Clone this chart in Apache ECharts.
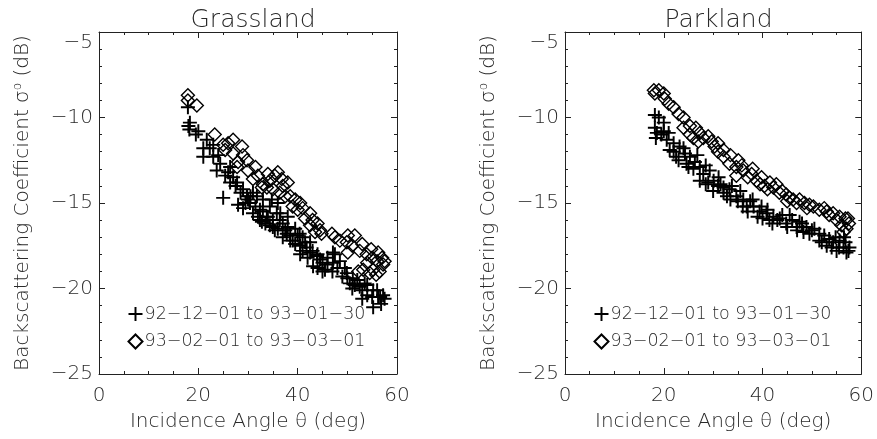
<!DOCTYPE html>
<html>
<head>
<meta charset="utf-8">
<script src="https://cdn.jsdelivr.net/npm/echarts@6/dist/echarts.min.js"></script>
<style>html,body{margin:0;padding:0;background:#fff}#c{width:877px;height:439px}</style>
</head>
<body>
<div id="c"></div>
<script>
// ---- data ----
const panelTitles = ['Grassland', 'Parkland'];
const seriesNames = ['92-12-01 to 93-01-30', '93-02-01 to 93-03-01'];
const xTicks = [0, 20, 40, 60];
const yTicks = [-25, -20, -15, -10, -5];

const grassPlusX = [17.9,18.3,18.2,18.0,20.0,19.5,21.7,21.0,23.0,22.3,24.4,23.7,26.4,27.0,27.8,25.0,25.4,26.4,29.0,29.8,31.0,30.4,28.0,33.0,32.4,34.4,35.8,31.0,32.4,32.8,34.4,35.0,37.0,36.4,37.8,35.4,39.0,38.5,40.4,39.5,41.8,40.5,42.5,40.5,43.9,43.1,44.5,44.0,45.5,42.5,47.1,47.5,47.1,48.5,49.5,49.9,50.5,51.1,51.5,52.0,53.0,53.5,54.0,54.0,55.2,55.0,56.2,55.2,56.6,57.2,57.5,36.0,33.8,30.0,29.0,37.5,41.0,45.0,46.0,
  26.0,27.5,28.5,29.5,30.5,31.5,32.0,33.0,33.5,34.0,35.0,36.0,36.5,37.0,38.0,38.5,39.5,40.0,41.0,41.5,42.0,43.0,44.0,45.0,46.0,47.0,48.0,49.0,50.0,51.0,52.5,53.0,56.0,56.8,34.8,31.8,38.0,24.0,23.0,21.0];
const grassPlusY = [-9.4,-10.3,-10.7,-10.5,-10.8,-11.0,-11.3,-12.3,-12.3,-11.8,-12.7,-13.1,-12.9,-13.5,-13.8,-14.7,-13.4,-13.8,-14.2,-14.6,-14.4,-15.0,-15.1,-14.8,-15.4,-15.2,-15.6,-15.6,-16.0,-16.1,-16.3,-16.4,-16.2,-16.0,-16.8,-16.6,-17.2,-17.2,-16.8,-16.5,-17.6,-17.5,-17.9,-18.0,-18.1,-18.7,-18.3,-18.8,-18.9,-17.3,-17.9,-18.0,-18.5,-18.4,-18.8,-19.1,-19.7,-19.4,-19.8,-19.5,-20.1,-19.7,-19.8,-20.4,-20.1,-20.5,-20.5,-21.1,-20.5,-20.4,-20.6,-15.0,-15.8,-14.8,-15.3,-16.6,-17.0,-18.5,-18.2,
  -13.2,-14.0,-14.4,-15.0,-14.6,-15.2,-15.8,-15.5,-16.2,-15.8,-16.0,-16.5,-15.6,-17.0,-16.4,-16.9,-17.4,-16.9,-17.8,-17.3,-18.2,-17.8,-18.0,-19.0,-18.6,-19.0,-18.8,-19.3,-19.4,-20.0,-19.9,-20.6,-20.1,-20.9,-14.8,-14.6,-15.8,-12.2,-11.6,-11.8];

const grassDiaX = [17.9,17.9,19.7,23.3,25.0,27.0,28.8,27.0,25.4,29.8,27.8,30.0,32.0,36.0,38.0,34.4,33.8,37.0,36.4,38.5,40.5,42.5,39.0,41.5,42.5,44.5,43.5,46.9,48.5,50.1,51.5,49.9,50.1,52.5,53.9,55.0,56.0,57.0,57.2,53.2,55.2,54.0,52.2,56.5,32.8,35.4,40.0,44.0,
  31.0,33.0,34.0,35.0,36.8,37.5,39.5,41.0,43.0,44.8,29.0,26.0,28.0,31.5,47.5,51.0,53.0,54.8,56.2,57.5,55.8,54.5];
const grassDiaY = [-8.7,-9.0,-9.3,-11.0,-11.6,-11.3,-11.7,-12.1,-11.9,-12.5,-12.9,-13.1,-13.4,-13.2,-13.8,-13.7,-14.1,-14.0,-14.4,-14.6,-15.0,-15.6,-15.2,-15.9,-16.3,-16.6,-16.7,-16.8,-17.2,-16.9,-16.9,-17.3,-17.9,-17.8,-18.0,-18.2,-18.4,-18.2,-18.6,-18.9,-18.9,-18.5,-19.0,-19.0,-14.1,-13.4,-15.4,-16.2,
  -13.6,-13.9,-13.3,-14.2,-13.6,-14.6,-14.8,-15.3,-16.0,-16.8,-12.2,-11.5,-12.6,-12.9,-17.0,-17.5,-17.4,-17.7,-17.9,-18.4,-19.2,-19.1];

const parkPlusX = [18.2,18.2,18.6,20.0,20.0,18.4,20.6,22.0,21.2,23.2,24.3,25.3,24.6,26.3,27.3,28.0,27.3,29.3,30.1,31.1,32.1,32.1,33.3,34.7,36.1,36.8,38.2,39.4,40.8,42.2,41.4,44.8,46.9,48.9,48.3,51.5,51.5,53.5,54.3,55.6,56.4,57.6,57.0,55.0,22.5,29.0,31.0,35.0,37.5,43.5,45.5,47.5,50.0,52.5,54.0,56.5,39.0,33.5,
  19.0,19.5,21.0,22.0,23.0,24.0,25.0,26.0,26.8,28.5,28.5,30.0,31.5,32.8,33.8,35.5,36.0,37.0,38.0,39.8,40.0,41.0,42.0,43.0,44.0,45.0,46.0,47.0,48.0,49.5,50.5,52.0,53.0,54.8,55.5,56.8,57.4];
const parkPlusY = [-9.85,-10.6,-10.9,-10.3,-10.8,-11.2,-11.3,-11.5,-11.9,-11.7,-12.1,-12.3,-12.7,-12.6,-12.9,-13.3,-13.7,-13.1,-13.7,-13.5,-14.1,-14.4,-14.2,-14.6,-14.8,-15.2,-15.2,-15.5,-15.6,-15.8,-16.0,-16.2,-16.4,-16.4,-16.7,-16.8,-17.2,-17.1,-17.3,-17.2,-17.6,-17.6,-17.9,-17.8,-12.3,-13.8,-14.0,-14.9,-14.9,-15.9,-15.7,-16.1,-16.6,-16.9,-17.6,-17.0,-15.8,-14.8,
  -10.0,-11.0,-10.9,-12.0,-12.5,-11.8,-12.9,-13.0,-12.2,-12.8,-13.9,-14.3,-13.9,-14.6,-14.0,-14.3,-15.2,-15.5,-14.8,-15.2,-15.9,-15.4,-16.2,-16.0,-15.7,-16.4,-16.0,-16.6,-16.2,-16.8,-16.5,-17.3,-17.5,-17.0,-17.6,-17.3,-17.8];

const parkDiaX = [18.0,18.2,20.0,20.2,22.0,24.0,24.0,25.3,25.3,27.3,28.0,29.7,30.3,32.1,32.1,33.3,35.1,34.7,34.7,36.1,37.8,38.8,40.4,42.2,43.4,44.8,46.2,46.9,48.5,50.3,51.5,54.3,55.6,55.0,56.0,57.0,56.4,57.3,26.0,31.0,39.5,41.5,45.5,49.0,53.0,
  19.0,21.0,23.0,26.5,27.0,29.0,31.0,33.5,35.8,37.0,38.0,39.8,41.0,42.8,44.0,45.0,47.5,49.5,52.5,53.5,56.8,57.5];
const parkDiaY = [-8.4,-8.6,-8.6,-8.9,-9.4,-10.0,-10.6,-10.5,-11.0,-10.9,-11.2,-11.4,-11.7,-11.9,-12.3,-12.7,-12.5,-12.9,-13.4,-13.1,-13.3,-13.7,-14.0,-14.1,-14.4,-14.5,-14.8,-15.0,-15.0,-15.2,-15.4,-15.6,-15.8,-16.0,-16.3,-16.5,-16.7,-15.9,-11.2,-12.0,-13.9,-13.8,-14.7,-15.3,-15.5,
  -8.4,-9.2,-9.8,-10.6,-11.4,-11.1,-11.5,-12.2,-12.8,-13.5,-13.0,-13.5,-14.2,-13.9,-14.3,-14.9,-14.8,-15.1,-15.3,-15.7,-15.9,-16.2];

// ---- styling / layout ----
const FONT = '"DejaVu Sans", sans-serif';
const TXT = '#2a2a2a';
const AX = '#222';
const PLUS = 'path://M4.3,0 H5.7 V4.3 H10 V5.7 H5.7 V10 H4.3 V5.7 H0 V4.3 H4.3 Z';
const grids = [
  {left: 99, top: 32, width: 298, height: 342},
  {left: 565, top: 32, width: 297, height: 342}
];
const pairs = (xs, ys) => xs.map((x, i) => [x, ys[i]]);
const minus = s => String(s).replace(/-/g, '\u2212');

const xAxes = [], yAxes = [], series = [], titles = [], legends = [];
grids.forEach((g, gi) => {
  const base = {
    gridIndex: gi, type: 'value', min: xTicks[0], max: xTicks[xTicks.length - 1], interval: 20,
    axisLine: {show: true, onZero: false, lineStyle: {color: AX, width: 1}},
    axisTick: {show: true, inside: true, length: 6, lineStyle: {color: AX}},
    minorTick: {show: true, splitNumber: 4, length: 3, lineStyle: {color: AX}},
    splitLine: {show: false}
  };
  xAxes.push(Object.assign({}, base, {
    position: 'bottom',
    axisLabel: {show: true, margin: 12, fontSize: 20, fontFamily: FONT, color: TXT, fontWeight: 200},
    name: 'Incidence Angle θ (deg)', nameLocation: 'middle', nameGap: 38,
    nameTextStyle: {fontSize: 20, fontFamily: FONT, color: TXT, fontWeight: 200}
  }));
  xAxes.push(Object.assign({}, base, {position: 'top', axisLabel: {show: false}}));
  const ybase = {
    gridIndex: gi, type: 'value', min: yTicks[0], max: yTicks[yTicks.length - 1], interval: 5,
    axisLine: {show: true, onZero: false, lineStyle: {color: AX, width: 1}},
    axisTick: {show: true, inside: true, length: 6, lineStyle: {color: AX}},
    minorTick: {show: true, splitNumber: 5, length: 3, lineStyle: {color: AX}},
    splitLine: {show: false}
  };
  yAxes.push(Object.assign({}, ybase, {
    position: 'left',
    axisLabel: {show: true, margin: 6, fontSize: 20, fontFamily: FONT, color: TXT, fontWeight: 200,
      formatter: v => v === yTicks[yTicks.length - 1] ? '{top|' + minus(v) + '}' : minus(v),
      rich: {top: {fontSize: 20, fontFamily: FONT, color: TXT, fontWeight: 200, padding: [22, 0, 0, 0]}}},
    name: 'Backscattering Coefficient σ{sup|o} (dB)', nameLocation: 'middle', nameGap: 65,
    nameTextStyle: {fontSize: 20, fontFamily: FONT, color: TXT, fontWeight: 200,
      rich: {sup: {fontSize: 12, fontFamily: FONT, color: TXT, fontWeight: 200, padding: [0, 0, 10, 0]}}}
  }));
  yAxes.push(Object.assign({}, ybase, {position: 'right', axisLabel: {show: false}}));

  const data = gi === 0
    ? [pairs(grassPlusX, grassPlusY), pairs(grassDiaX, grassDiaY)]
    : [pairs(parkPlusX, parkPlusY), pairs(parkDiaX, parkDiaY)];
  series.push({
    type: 'scatter', name: seriesNames[0], xAxisIndex: gi * 2, yAxisIndex: gi * 2,
    symbol: PLUS, symbolSize: 14, data: data[0],
    itemStyle: {color: '#000', opacity: 1}, emphasis: {disabled: true}
  });
  series.push({
    type: 'scatter', name: seriesNames[1], xAxisIndex: gi * 2, yAxisIndex: gi * 2,
    symbol: 'diamond', symbolSize: 13, data: data[1],
    itemStyle: {color: 'none', borderColor: '#000', borderWidth: 1.4, opacity: 1}, emphasis: {disabled: true}
  });
  titles.push({
    text: panelTitles[gi], left: g.left + g.width / 2, top: 3, textAlign: 'center',
    textStyle: {fontSize: 25, fontFamily: FONT, color: TXT, fontWeight: 200}
  });
  legends.push({
    data: seriesNames.map(n => ({name: n})), orient: 'vertical', padding: 0,
    left: g.left + 27, top: 305, itemWidth: 14, itemHeight: 14, itemGap: 9,
    formatter: n => minus(n),
    textStyle: {fontSize: 17.5, lineHeight: 18, fontFamily: FONT, color: TXT, fontWeight: 200, padding: [0, 0, 0, -3]},
    selectedMode: false, inactiveColor: '#000'
  });
});

const chart = echarts.init(document.getElementById('c'), null, {renderer: 'canvas'});
chart.setOption({
  animation: false, backgroundColor: '#fff',
  title: titles, legend: legends, grid: grids,
  xAxis: xAxes, yAxis: yAxes, series: series
});
</script>
</body>
</html>
